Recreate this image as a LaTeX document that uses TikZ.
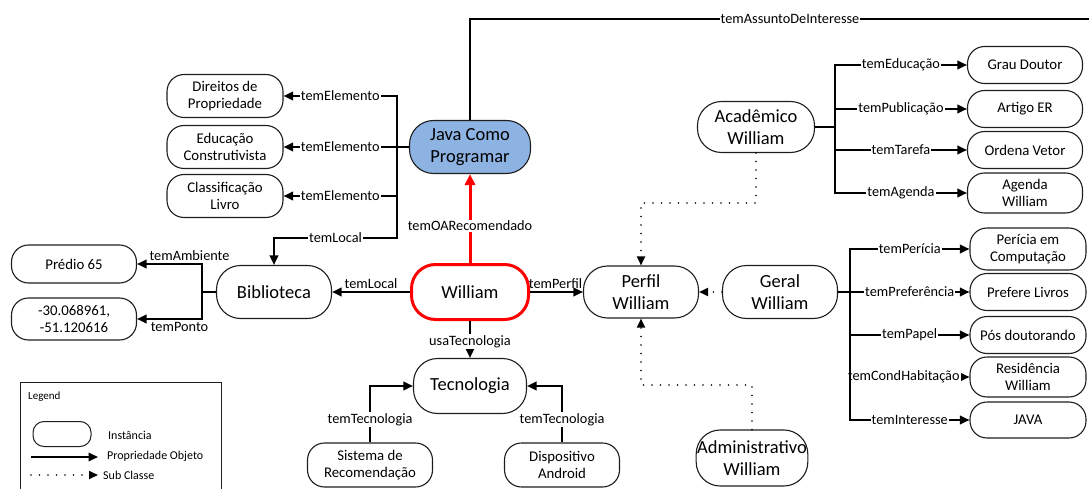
\documentclass[tikz,border=0pt]{standalone}
\usepackage{fontspec}
\setmainfont{Carlito}
\usetikzlibrary{arrows.meta}

\definecolor{javablue}{HTML}{8DB3E2}
\definecolor{frame}{HTML}{1E1E1E}
\definecolor{wred}{HTML}{FF0000}

\begin{document}
\begin{tikzpicture}[x=1pt,y=-1pt,
  inst/.style={draw=frame, line width=1.1pt, fill=white, align=center, inner sep=1pt,
    minimum width=116pt, minimum height=40pt, rounded corners=17pt,
    font=\fontsize{14.8}{17}\selectfont},
  bigi/.style={inst, minimum width=115pt, minimum height=53pt, rounded corners=24pt,
    font=\fontsize{18.5}{21.5}\selectfont},
  rel/.style={line width=2pt, -{Triangle[length=9.5pt,width=8.5pt]}},
  link/.style={line width=2pt},
  sub/.style={line width=1.8pt, line cap=round, dash pattern=on 0pt off 8.5pt,
    -{Triangle[length=9pt,width=8pt]}},
  lbl/.style={fill=white, text=black, inner sep=1pt, font=\fontsize{14.3}{16}\selectfont},
  lbln/.style={inner sep=1pt, font=\fontsize{14.3}{16}\selectfont},
  lgd/.style={inner sep=0pt, anchor=west, font=\fontsize{12}{14}\selectfont},
]
\useasboundingbox (0,0) rectangle (1089,489);
\clip (0,0) rectangle (1089,489);

% ---- central instances
\node[bigi, minimum width=121pt, fill=javablue] (java) at (470,147) {Java Como\\Programar};
\node[bigi, minimum width=117pt, minimum height=55pt, draw=wred, line width=3pt] (wil) at (470,292) {William};
\node[bigi] (bib) at (274,292) {Biblioteca};
\node[bigi, minimum width=113pt, minimum height=55pt] (tec) at (470,386) {Tecnologia};
\node[bigi, minimum height=52pt] (per) at (641,292) {Perfil\\William};
\node[bigi, minimum width=117pt, minimum height=51pt] (aca) at (756,127) {Acadêmico\\William};
\node[bigi] (ger) at (780,292) {Geral\\William};
\node[bigi, minimum width=111pt, minimum height=56pt] (adm) at (752,458) {Administrativo\\William};

% ---- elements of the learning object
\node[inst, minimum height=43pt] (dir) at (225,96) {Direitos de\\Propriedade};
\node[inst, minimum height=43pt] (edu) at (225,147) {Educação\\Construtivista};
\node[inst, minimum height=43pt] (cla) at (225,196) {Classificação\\Livro};

% ---- library location
\node[inst, minimum width=125pt, minimum height=38pt] (pre) at (74,264) {Prédio 65};
\node[inst, minimum width=125pt, minimum height=42pt] (pto) at (74,319) {-30.068961,\\-51.120616};

% ---- technology
\node[inst, minimum width=125pt, minimum height=44pt] (sis) at (370,465) {Sistema de\\Recomendação};
\node[inst, minimum width=115pt, minimum height=44pt] (dis) at (562,465) {Dispositivo\\Android};

% ---- academic profile
\node[inst, minimum width=115pt, minimum height=37pt] (gd) at (1025,65) {Grau Doutor};
\node[inst, minimum width=115pt, minimum height=37pt] (art) at (1025,109) {Artigo ER};
\node[inst, minimum width=115pt, minimum height=37pt] (ord) at (1025,150) {Ordena Vetor};
\node[inst, minimum width=115pt, minimum height=40pt] (age) at (1025,193) {Agenda\\William};

% ---- general profile
\node[inst, minimum height=42pt] (pc) at (1028,249) {Perícia em\\Computação};
\node[inst, minimum height=37pt] (pl) at (1028,292) {Prefere Livros};
\node[inst, minimum height=37pt] (pd) at (1028,335) {Pós doutorando};
\node[inst, minimum height=40pt] (res) at (1028,377) {Residência\\William};
\node[inst, minimum height=36pt] (jv) at (1028,420) {JAVA};

% ---- junction points of the branching connectors
\coordinate (jb) at (397,147);
\coordinate (lc) at (274,238);
\coordinate (bb) at (202,292);
\coordinate (ab) at (835,127);
\coordinate (gb) at (850,292);
\coordinate (ad) at (641,203);
\coordinate (au) at (641,385);
\coordinate (ae) at (1100,19);

% ---- temAssuntoDeInteresse (runs off to the right)
\draw[link] (java.north) |- (ae);
\node[lbl] (assunto) at (790,19) {temAssuntoDeInteresse};

% ---- Java Como Programar elements
\draw[link] (java.west) -- (jb);
\draw[rel] (jb) |- node[lbl, pos=0.75] {temElemento} (dir.east);
\draw[rel] (jb) -- node[lbl] {temElemento} (edu.east);
\draw[rel] (jb) |- node[lbl, pos=0.75] {temElemento} (cla.east);
\draw[rel] (jb) |- node[lbl, pos=0.75] {temLocal} (lc) -- (bib.north);

% ---- William
\draw[wred, line width=3pt, -{Triangle[length=11pt,width=10pt]}] (wil.north) -- node[lbl, pos=0.42] {temOARecomendado} (java.south);
\draw[rel] (wil.west) -- node[lbln, above=1pt] {temLocal} (bib.east);
\draw[rel] (wil.east) -- node[lbln, above=1pt, xshift=-1pt] {temPerfil} (per.west);
\draw[rel] (wil.south) -- node[lbl, pos=0.55] {usaTecnologia} (tec.north);

% ---- Biblioteca
\draw[link] (bib.west) -- (bb);
\draw[rel] (bb) |- node[lbln, pos=0.75, above=1pt, xshift=20pt] {temAmbiente} (pre.east);
\draw[rel] (bb) |- node[lbln, pos=0.75, below=1pt, xshift=10pt] {temPonto} (pto.east);

% ---- Tecnologia
\draw[rel] (sis.north) |- node[lbl, pos=0.205] {temTecnologia} (tec.west);
\draw[rel] (dis.north) |- node[lbl, pos=0.205] {temTecnologia} (tec.east);

% ---- sub classes of Perfil William
\draw[sub] (aca.south) |- (ad) -- (per.north);
\draw[sub] (adm.north) |- (au) -- (per.south);
\draw[sub] (ger.west) -- (per.east);

% ---- Acadêmico William
\draw[link] (aca.east) -- (ab);
\draw[rel] (ab) |- node[lbl, pos=0.75] {temEducação} (gd.west);
\draw[rel] (ab) |- node[lbl, pos=0.75] {temPublicação} (art.west);
\draw[rel] (ab) |- node[lbl, pos=0.75] {temTarefa} (ord.west);
\draw[rel] (ab) |- node[lbl, pos=0.75] {temAgenda} (age.west);

% ---- Geral William
\draw[link] (ger.east) -- (gb);
\draw[rel] (gb) |- node[lbl, pos=0.75] {temPerícia} (pc.west);
\draw[rel] (gb) -- node[lbl] {temPreferência} (pl.west);
\draw[rel] (gb) |- node[lbl, pos=0.75] {temPapel} (pd.west);
\draw[rel] (gb) |- node[lbl, pos=0.75, xshift=-6pt] {temCondHabitação} (res.west);
\draw[rel] (gb) |- node[lbl, pos=0.75] {temInteresse} (jv.west);

% ---- legend
\draw[frame, line width=1pt] (20,382) rectangle (221,500);
\node[lgd, font=\fontsize{11}{13}\selectfont] (lgtitle) at (28,397) {Legend};
\node[draw=frame, line width=1pt, minimum width=58pt, minimum height=25pt, rounded corners=11pt] (lginst) at (62,434) {};
\node[lgd] (lginstt) at (108,435) {Instância};
\coordinate (lgr1) at (31,457);
\coordinate (lgr2) at (98,457);
\draw[rel, line width=1.8pt] (lgr1) -- (lgr2);
\node[lgd] (lgrelt) at (107,456) {Propriedade Objeto};
\coordinate (lgs1) at (31,475);
\coordinate (lgs2) at (98,475);
\draw[sub] (lgs1) -- (lgs2);
\node[lgd] (lgsubt) at (103,475) {Sub Classe};
\end{tikzpicture}
\end{document}
